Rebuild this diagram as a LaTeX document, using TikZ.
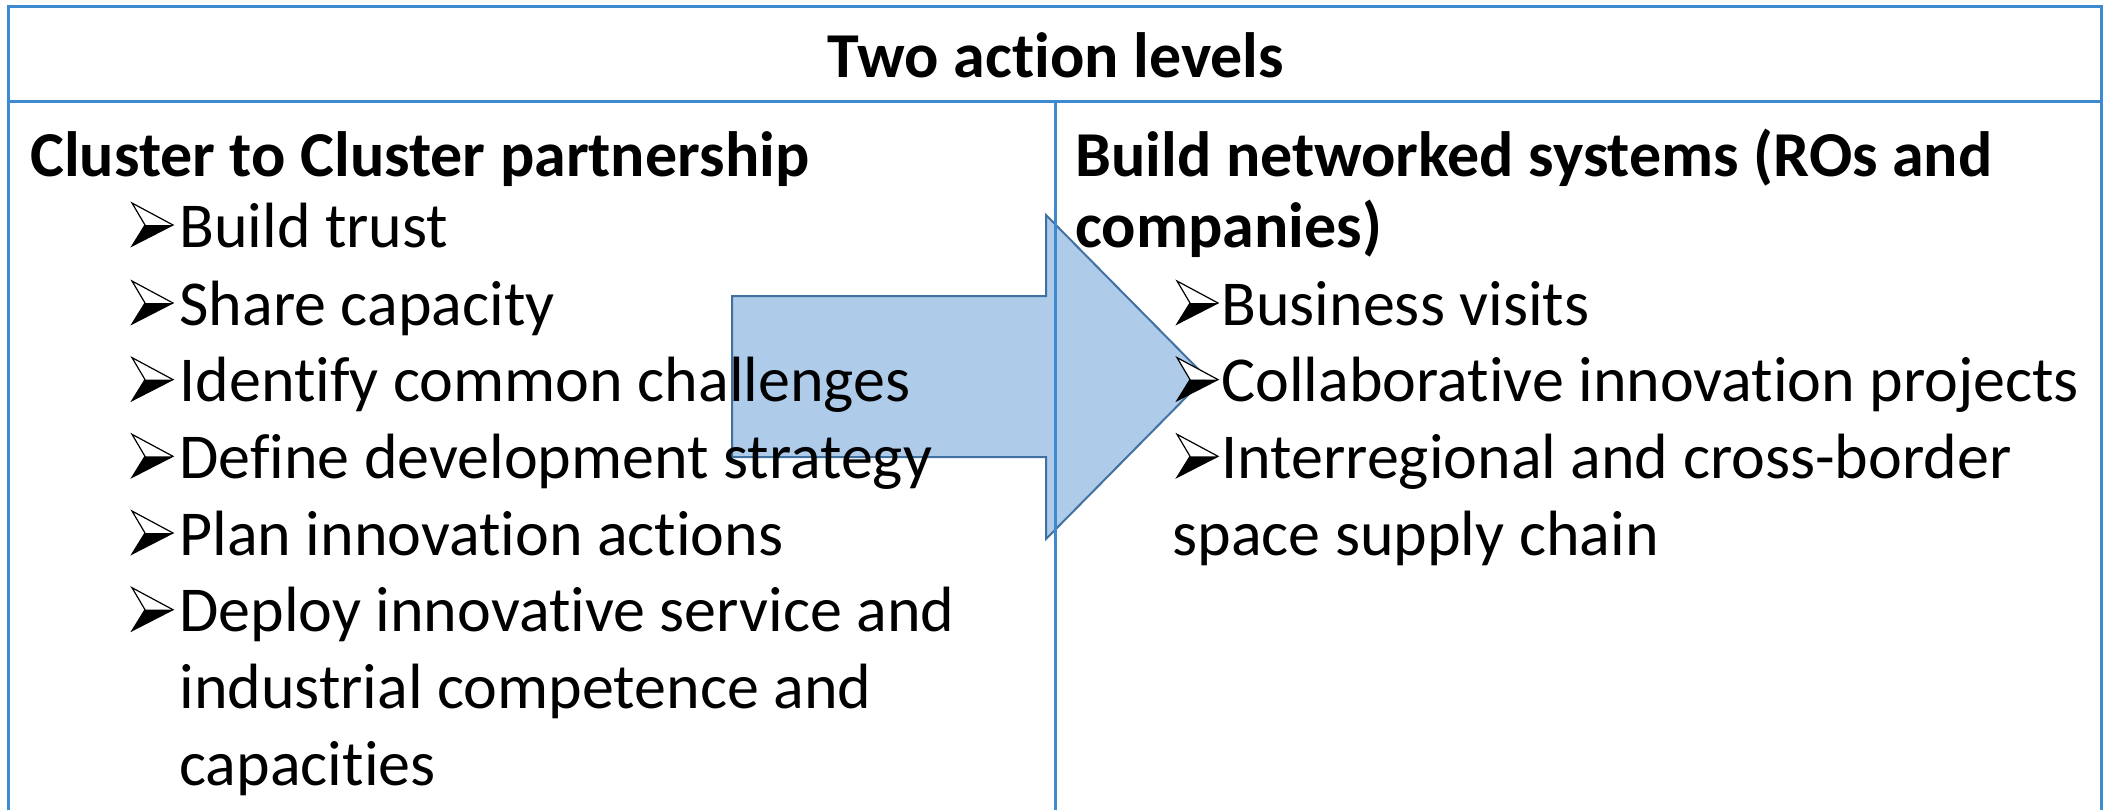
\documentclass[tikz,border=0pt]{standalone}
\usepackage{fontspec}
\setmainfont{Carlito}[Ligatures={NoCommon}]
\definecolor{tblue}{RGB}{62,138,208}
\definecolor{afill}{RGB}{174,203,234}
\definecolor{aline}{RGB}{65,113,160}
\begin{document}
\begin{tikzpicture}[x=0.5pt,y=-0.5pt,
  txt/.style={anchor=base west, inner sep=0, font=\fontsize{32}{38}\selectfont},
  hd/.style={anchor=base west, inner sep=0, font=\fontsize{32}{38}\selectfont\bfseries},
  tline/.style={draw=tblue, line width=1.5pt},
  bigarrow/.style={fill=afill, draw=aline, line width=1pt, line join=miter},
  bulletmark/.pic={
    \fill[white] (0,0) -- (41,22) -- (13,22) -- cycle;
    \fill[black] (0,43) -- (13,22) -- (41,22) -- cycle;
    \draw[black, line width=0.6pt, line join=miter] (0,0) -- (41,22) -- (0,43) -- (13,22) -- cycle;
  }]
\useasboundingbox (0,0) rectangle (2113,809);
\clip (0,0) rectangle (2113,809);
\fill[white] (0,0) rectangle (2113,809);
% arrow
\draw[bigarrow] (732,296) -- (1046,296) -- (1046,215) -- (1206,377) -- (1046,539) -- (1046,457) -- (732,457) -- cycle;
% table
\coordinate (tl) at (8,6);
\coordinate (tr) at (2101,6);
\coordinate (bl) at (8,815);
\coordinate (br) at (2101,815);
\coordinate (hl) at (8,101);
\coordinate (hr) at (2101,101);
\coordinate (dt) at (1055,101);
\coordinate (db) at (1055,815);
\draw[tline] (bl) -- (tl) -- (tr) -- (br);
\draw[tline] (hl) -- (hr);
\draw[tline] (dt) -- (db);
% title
\node[hd, anchor=base] (title) at (1056,77) {Two action levels};
% left column
\node[hd] (lh) at (30,176) {Cluster to Cluster partnership};
\pic (lb1) at (132,203) {bulletmark};
\node[txt] (l1) at (179,247) {Build trust};
\pic (lb2) at (132,281) {bulletmark};
\node[txt] (l2) at (179,325) {Share capacity};
\pic (lb3) at (132,357.6) {bulletmark};
\node[txt] (l3) at (179,401.6) {Identify common challenges};
\pic (lb4) at (132,434.3) {bulletmark};
\node[txt] (l4) at (179,478.3) {Define development strategy};
\pic (lb5) at (132,511) {bulletmark};
\node[txt] (l5) at (179,555) {Plan innovation actions};
\pic (lb6) at (132,587.7) {bulletmark};
\node[txt] (l6) at (179,631.7) {Deploy innovative service and};
\node[txt] (l7) at (179,708.4) {industrial competence and};
\node[txt] (l8) at (179,785) {capacities};
% right column
\node[hd] (rh1) at (1075,176) {Build networked systems (ROs and};
\node[hd] (rh2) at (1075,247) {companies)};
\pic (rb1) at (1177,281) {bulletmark};
\node[txt] (r1) at (1221,325) {Business visits};
\pic (rb2) at (1177,357.6) {bulletmark};
\node[txt] (r2) at (1221,401.6) {Collaborative innovation projects};
\pic (rb3) at (1177,434.3) {bulletmark};
\node[txt] (r3) at (1221,478.3) {Interregional and cross-border};
\node[txt] (r4) at (1172,555) {space supply chain};
\end{tikzpicture}
\end{document}
